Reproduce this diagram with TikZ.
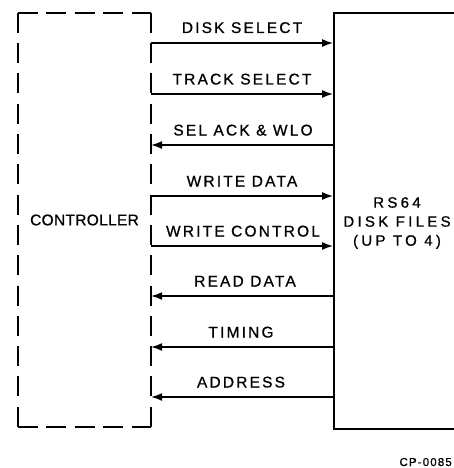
\documentclass[tikz,border=0pt]{standalone}
\usepackage{fontspec}
\setmainfont{Liberation Sans}
\newfontfamily\lblfont[LetterSpace=14,FakeBold=0.8]{Liberation Sans}
\newfontfamily\ctlfont[LetterSpace=2,FakeBold=0.8]{Liberation Sans}
\newfontfamily\dskfont[LetterSpace=22,FakeBold=0.8]{Liberation Sans}
\newfontfamily\cpfont[LetterSpace=10,FakeBold=0.8]{Liberation Sans}
\usetikzlibrary{arrows.meta}
\tikzset{
  dashv/.style={line width=2.3pt, dash pattern=on 20pt off 10.3pt},
  dashh/.style={line width=2.3pt, dash pattern=on 20pt off 8.5pt},
  diskbox/.style={draw, line width=2pt, inner sep=0, minimum width=140pt, minimum height=416pt},
  disktext/.style={align=center, inner sep=0, font=\dskfont\fontsize{15}{19}\selectfont},
  ctrlbox/.style={inner sep=0, minimum width=133pt, minimum height=414pt, font=\ctlfont\fontsize{15.5}{18}\selectfont},
  lbl/.style={anchor=base, inner sep=0, font=\lblfont\fontsize{15.5}{18}\selectfont},
  sigR/.style={line width=1.3pt, -{Latex[length=11pt,width=8pt]}},
  sigL/.style={line width=1.3pt, {Latex[length=11pt,width=8pt]}-},
}
\begin{document}
\begin{tikzpicture}[x=1pt,y=-1pt]
\useasboundingbox[fill=white] (0,0) rectangle (454,468);
% boxes
\node[ctrlbox] (ctrl) at (84.5,220) {CONTROLLER};
\draw[dashh] (ctrl.north west) -- (ctrl.north east);
\draw[dashh] (ctrl.south west) -- (ctrl.south east);
\draw[dashv] (ctrl.north west) -- (ctrl.south west);
\draw[dashv] (ctrl.north east) -- (ctrl.south east);
\node[diskbox] (disk) at (404,221) {};
\node[disktext] (dtxt) at (397,223) {RS64\\DISK FILES\\(UP TO 4)};
% signals
\draw[sigR] (ctrl.east |- 0,43) -- (disk.west |- 0,43);
\draw[sigR] (ctrl.east |- 0,94) -- (disk.west |- 0,94);
\draw[sigL] (ctrl.east |- 0,145) -- (disk.west |- 0,145);
\draw[sigR] (ctrl.east |- 0,196) -- (disk.west |- 0,196);
\draw[sigR] (ctrl.east |- 0,246) -- (disk.west |- 0,246);
\draw[sigL] (ctrl.east |- 0,296) -- (disk.west |- 0,296);
\draw[sigL] (ctrl.east |- 0,347) -- (disk.west |- 0,347);
\draw[sigL] (ctrl.east |- 0,397) -- (disk.west |- 0,397);
% labels
\node[lbl] (l1) at (242,33) {DISK SELECT};
\node[lbl] (l2) at (242,84.5) {TRACK SELECT};
\node[lbl] (l3) at (243,135.5) {SEL ACK \& WLO};
\node[lbl] (l4) at (242,186.5) {WRITE DATA};
\node[lbl] (l5) at (243,236.5) {WRITE CONTROL};
\node[lbl] (l6) at (245,286.5) {READ DATA};
\node[lbl] (l7) at (241,337.5) {TIMING};
\node[lbl] (l8) at (241,387.5) {ADDRESS};
\node[anchor=base east, inner sep=0, font=\cpfont\fontsize{11.5}{14}\selectfont] (cp) at (452,466) {CP-0085};
\end{tikzpicture}
\end{document}
